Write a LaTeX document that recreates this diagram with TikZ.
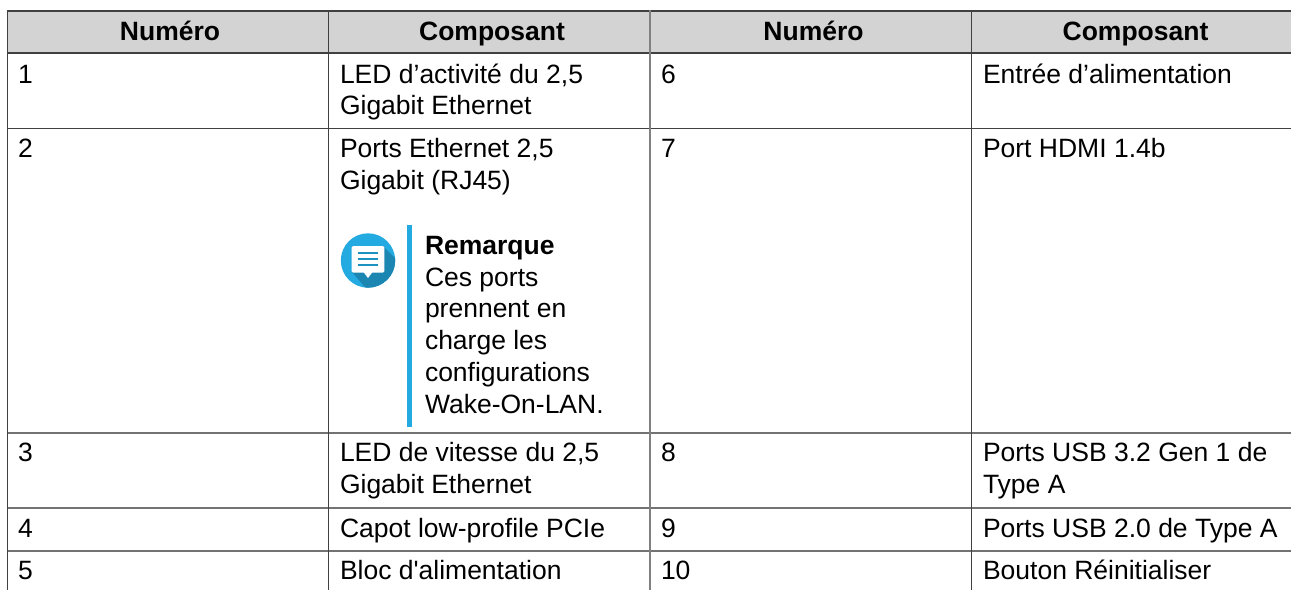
\documentclass[tikz,border=0pt]{standalone}
\usepackage{fontspec}
\newfontfamily\cellfont{Liberation Sans}
\tikzset{
  x=1pt,y=-1pt,
  cell/.style={anchor=base west,inner sep=0pt,outer sep=0pt,font=\cellfont\fontsize{26.5}{32}\selectfont},
  head/.style={anchor=base,inner sep=0pt,outer sep=0pt,font=\cellfont\fontsize{26.5}{32}\selectfont\bfseries},
  darkline/.style={draw=black!75,line width=1.5pt},
  rowline/.style={draw=black!55,line width=1.6pt},
  midline/.style={draw=black!50,line width=1.8pt},
}
\definecolor{headfill}{HTML}{D3D3D3}
\definecolor{noteblue}{HTML}{22AAE1}
\definecolor{noteshade}{HTML}{1C86B3}
\begin{document}
\begin{tikzpicture}
\useasboundingbox (0,0) rectangle (1291,590);
\fill[white] (0,0) rectangle (1291,590);
\fill[headfill] (7.5,11) rectangle (1291,53);
% rules
\foreach \yy in {433,508,551} \draw[rowline] (7,\yy) -- (1291,\yy);
\draw[darkline] (7,128.5) -- (1291,128.5);
\draw[darkline] (7,11) -- (1291,11);
\draw[darkline] (7,53) -- (1291,53);
\draw[darkline] (7.5,10) -- (7.5,590);
\draw[darkline] (328.5,10) -- (328.5,590);
\draw[midline] (650,10) -- (650,590);
\draw[darkline] (971.5,10) -- (971.5,590);
% header
\node[head] (h1) at (170,40.5) {Numéro};
\node[head] (h2) at (492,40.5) {Composant};
\node[head] (h3) at (813.5,40.5) {Numéro};
\node[head] (h4) at (1135.5,40.5) {Composant};
% left
\node[cell] (n1) at (18,83) {1};
\node[cell] (c1a) at (340,83) {LED d’activité du 2,5};
\node[cell] (c1b) at (340,114.5) {Gigabit Ethernet};
\node[cell] (n2) at (18,157.5) {2};
\node[cell] (c2a) at (340,157.5) {Ports Ethernet 2,5};
\node[cell] (c2b) at (340,189) {Gigabit (RJ45)};
\node[cell,font=\cellfont\fontsize{26.5}{32}\selectfont\bfseries] (r0) at (425,254) {Remarque};
\node[cell] (r1) at (425,286) {Ces ports};
\node[cell] (r2) at (425,317.5) {prennent en};
\node[cell] (r3) at (425,349.5) {charge les};
\node[cell] (r4) at (425,381.5) {configurations};
\node[cell] (r5) at (425,413.5) {Wake-On-LAN.};
\node[cell] (n3) at (18,461) {3};
\node[cell] (c3a) at (340,461) {LED de vitesse du 2,5};
\node[cell] (c3b) at (340,493) {Gigabit Ethernet};
\node[cell] (n4) at (18,537) {4};
\node[cell] (c4) at (340,537) {Capot low-profile PCIe};
\node[cell] (n5) at (18,579) {5};
\node[cell] (c5) at (340,579) {Bloc d'alimentation};
% right
\node[cell] (n6) at (661,83) {6};
\node[cell] (c6) at (983,83) {Entrée d’alimentation};
\node[cell] (n7) at (661,157.5) {7};
\node[cell] (c7) at (983,157.5) {Port HDMI 1.4b};
\node[cell] (n8) at (661,461) {8};
\node[cell] (c8a) at (983,461) {Ports USB 3.2 Gen 1 de};
\node[cell] (c8b) at (983,493) {Type A};
\node[cell] (n9) at (661,537) {9};
\node[cell] (c9) at (983,537) {Ports USB 2.0 de Type A};
\node[cell] (n10) at (661,579) {10};
\node[cell] (c10) at (983,579) {Bouton Réinitialiser};
% note bar and icon
\fill[noteblue] (407,225) rectangle (412.3,427);
\fill[noteblue] (368,260.5) circle (27.2);
\begin{scope}
\clip (368,260.5) circle (27.2);
\fill[noteshade] (384,247) -- (404,267) -- (404,305) -- (380,305) -- (352,272) -- cycle;
\end{scope}
\fill[white,rounded corners=1.5pt] (351.7,246) -- (384.3,246) -- (384.3,272.7) -- (351.7,272.7) -- cycle;
\fill[white] (372.5,272) -- (368,278) -- (363.5,272) -- cycle;
\foreach \yy in {253,259,265} \fill[noteblue!85!black] (358,\yy-0.8) rectangle (377.7,\yy+0.8);
\end{tikzpicture}
\end{document}
